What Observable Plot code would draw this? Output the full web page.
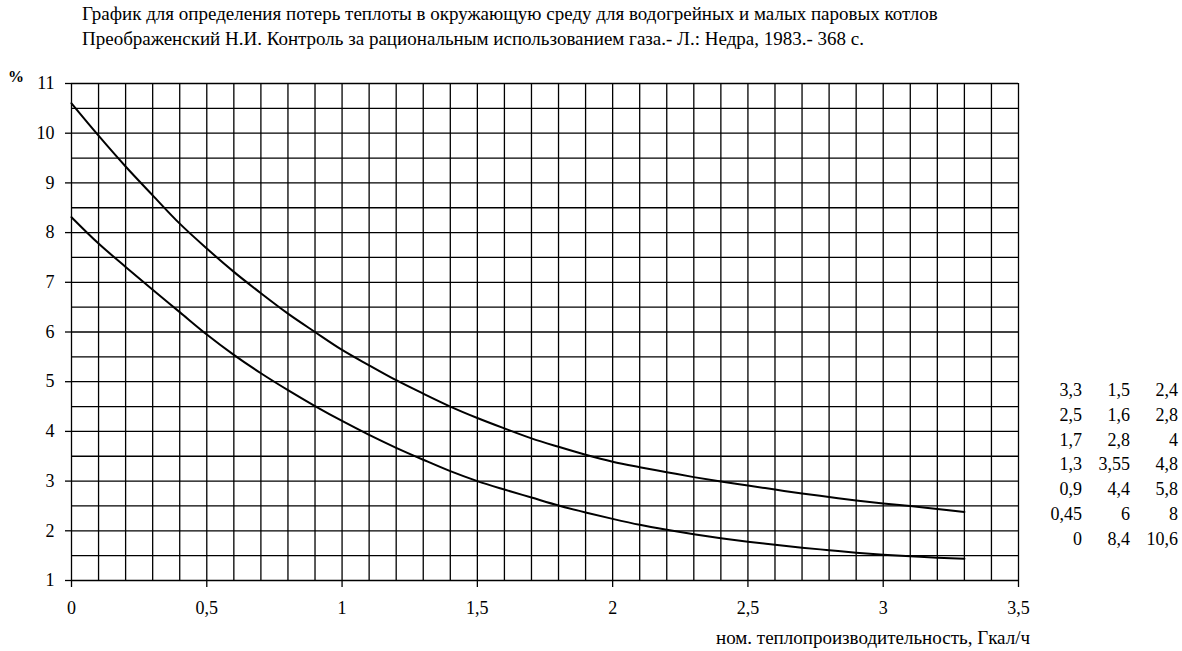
<!DOCTYPE html>
<html>
<head>
<meta charset="utf-8">
<script src="https://cdn.jsdelivr.net/npm/d3@7"></script>
<script src="https://cdn.jsdelivr.net/npm/@observablehq/plot@0.6"></script>
<style>
  body { margin: 0; background: #fff; }
  #wrap { position: relative; width: 1182px; height: 651px; overflow: hidden; color: #000; font-family: 'Liberation Serif', 'Times New Roman', serif; }
  #wrap svg { position: absolute; left: 0; top: 0; }
  .title { position: absolute; left: 82px; font-size: 19px; line-height: 22px; white-space: nowrap; }
  .pct { position: absolute; left: 8px; top: 68px; font-size: 16px; font-weight: bold; }
  .xlabel { position: absolute; right: 152px; top: 627px; font-size: 19px; white-space: nowrap; }
  table.tbl { position: absolute; left: 1040px; top: 378px; border-collapse: collapse; font-size: 18px; }
  table.tbl td { text-align: right; padding: 0; height: 24.8px; line-height: 24.8px; }
</style>
</head>
<body>
<div id="wrap">
  <div class="title" style="top:3px">График для определения потерь теплоты в окружающую среду для водогрейных и малых паровых котлов</div>
  <div class="title" style="top:28px">Преображенский Н.И. Контроль за рациональным использованием газа.- Л.: Недра, 1983.- 368 с.</div>
  <div class="pct">%</div>
  <div class="xlabel">ном. теплопроизводительность, Гкал/ч</div>
  <table class="tbl" id="tbl"></table>
</div>
<script>
// Capacity (Gcal/h) positions at which the curves were read
const capacity = [0,0.1,0.2,0.3,0.4,0.5,0.6,0.7,0.8,0.9,1.0,1.1,1.2,1.3,1.4,1.5,1.6,1.7,1.8,1.9,2.0,2.1,2.2,2.3,2.4,2.5,2.6,2.7,2.8,2.9,3.0,3.1,3.2,3.3];
// Upper curve (% heat loss)
const upperLoss = [10.6,9.95,9.33,8.75,8.18,7.68,7.21,6.78,6.37,6.0,5.64,5.33,5.03,4.76,4.5,4.27,4.06,3.86,3.69,3.53,3.39,3.28,3.18,3.08,2.99,2.91,2.83,2.75,2.68,2.61,2.55,2.50,2.44,2.38];
// Lower curve (% heat loss)
const lowerLoss = [8.31,7.78,7.31,6.85,6.4,5.95,5.54,5.17,4.83,4.51,4.21,3.93,3.67,3.43,3.2,3.0,2.83,2.67,2.51,2.37,2.24,2.12,2.02,1.93,1.85,1.78,1.72,1.66,1.61,1.56,1.52,1.49,1.46,1.44];

// Side table (source values)
const tableCapacity = ["3,3","2,5","1,7","1,3","0,9","0,45","0"];
const tableLower = ["1,5","1,6","2,8","3,55","4,4","6","8,4"];
const tableUpper = ["2,4","2,8","4","4,8","5,8","8","10,6"];

// Axis ticks and grid
const xTicks = [0,0.5,1,1.5,2,2.5,3,3.5];
const yTicks = [1,2,3,4,5,6,7,8,9,10,11];
const xGrid = d3.range(0, 36).map(i => i / 10);
const yGrid = d3.range(0, 21).map(i => 1 + i / 2);

const fmt = d => String(d).replace(".", ",");

const series = [
  ...capacity.map((x, i) => ({x, y: upperLoss[i], s: "upper"})),
  ...capacity.map((x, i) => ({x, y: lowerLoss[i], s: "lower"}))
];

const chart = Plot.plot({
  width: 1182,
  height: 651,
  marginLeft: 71,
  marginRight: 164,
  marginTop: 83,
  marginBottom: 71,
  style: {fontFamily: "'Liberation Serif', 'Times New Roman', serif", fontSize: "18px", color: "#000", background: "transparent"},
  x: {domain: [0, 3.5]},
  y: {domain: [1, 11]},
  marks: [
    Plot.gridX(xGrid, {stroke: "#000", strokeOpacity: 1, strokeWidth: 1.3}),
    Plot.gridY(yGrid, {stroke: "#000", strokeOpacity: 1, strokeWidth: 1.3}),
    Plot.axisX(xTicks, {tickSize: 7, tickPadding: 14, tickFormat: fmt, label: null, stroke: "#000", strokeWidth: 1.3, fontSize: 18}),
    Plot.axisY(yTicks, {tickSize: 6, tickPadding: 11, tickFormat: fmt, label: null, stroke: "#000", strokeWidth: 1.3, fontSize: 18}),
    Plot.line(series, {x: "x", y: "y", z: "s", stroke: "#000", strokeWidth: 2, curve: "monotone-x"})
  ]
});
document.getElementById("wrap").prepend(chart);

const tbl = document.getElementById("tbl");
tableCapacity.forEach((c, i) => {
  const tr = document.createElement("tr");
  [[c, 42], [tableLower[i], 48], [tableUpper[i], 48]].forEach(([t, w]) => {
    const td = document.createElement("td");
    td.textContent = t;
    td.style.width = w + "px";
    tr.appendChild(td);
  });
  tbl.appendChild(tr);
});
</script>
</body>
</html>
